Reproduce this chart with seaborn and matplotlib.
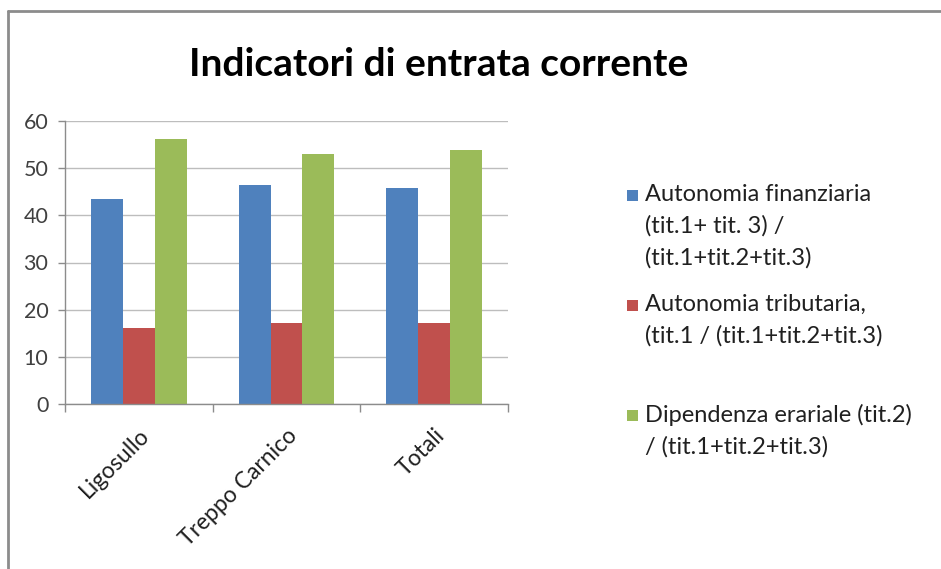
import matplotlib
matplotlib.use("Agg")
import matplotlib.pyplot as plt
from matplotlib.patches import Rectangle
from matplotlib.lines import Line2D
import seaborn as sns
import pandas as pd

# Data
comuni = ["Ligosullo", "Treppo Carnico", "Totali"]
autonomia_finanziaria = [43.4, 46.4, 45.7]
autonomia_tributaria = [16.2, 17.1, 17.1]
dipendenza_erariale = [56.1, 53.1, 53.8]
indicatori = [
    "Autonomia finanziaria\n(tit.1+ tit. 3) /\n(tit.1+tit.2+tit.3)",
    "Autonomia tributaria,\n(tit.1 / (tit.1+tit.2+tit.3)",
    "Dipendenza erariale (tit.2)\n/ (tit.1+tit.2+tit.3)",
]
colori = ["#4F81BD", "#C0504D", "#9BBB59"]
y_ticks = [0, 10, 20, 30, 40, 50, 60]

df = pd.DataFrame({
    "Comune": comuni * 3,
    "Indicatore": [indicatori[0]] * 3 + [indicatori[1]] * 3 + [indicatori[2]] * 3,
    "Valore": autonomia_finanziaria + autonomia_tributaria + dipendenza_erariale,
})

sns.set_theme(style="white")
plt.rcParams["font.family"] = ["Lato", "DejaVu Sans"]

fig = plt.figure(figsize=(9.41, 5.69), dpi=100)
ax = fig.add_axes([65 / 941, 1 - 404 / 569, (508 - 65) / 941, (404 - 121) / 569])

sns.barplot(data=df, x="Comune", y="Valore", hue="Indicatore",
            palette=colori, width=0.65, saturation=1, ax=ax, legend=False,
            linewidth=0, edgecolor="none")

ax.set_ylim(0, 60)
ax.set_xlim(-0.5, 2.5)
ax.set_yticks(y_ticks)
ax.set_xlabel("")
ax.set_ylabel("")
ax.yaxis.grid(True, color="#BDBDBD", linewidth=1)
ax.set_axisbelow(True)
for side in ["top", "right"]:
    ax.spines[side].set_visible(False)
for side in ["left", "bottom"]:
    ax.spines[side].set_color("#8C8C8C")
    ax.spines[side].set_linewidth(1)

ax.tick_params(axis="y", labelsize=15.5, colors="#8C8C8C", labelcolor="#404040",
               length=5, width=1, direction="out", left=True, pad=7)
ax.set_xticks([0, 1, 2])
ax.set_xticklabels(comuni, rotation=45, ha="right", rotation_mode="anchor",
                   fontsize=16.5, color="#202020")
ax.tick_params(axis="x", length=0, pad=15)
# category separator ticks below the axis
ax.set_xticks([-0.5, 0.5, 1.5, 2.5], minor=True)
ax.tick_params(axis="x", which="minor", length=6, width=1, color="#8C8C8C",
               direction="out", bottom=True)

fig.text(439 / 941, 1 - 76 / 569, "Indicatori di entrata corrente",
         ha="center", va="baseline", fontsize=28, fontweight="bold", color="#000000")

# Legend drawn entry by entry with equal spacing
legend_tops = [184, 294, 404]
for label, col, y in zip(indicatori, colori, legend_tops):
    fig.patches.append(Rectangle((627 / 941, 1 - (y + 17) / 569), 11 / 941, 11 / 569,
                                 transform=fig.transFigure, facecolor=col,
                                 edgecolor="none"))
    fig.text(645 / 941, 1 - y / 569, label, ha="left", va="top",
             fontsize=17, color="#202020", linespacing=1.58)

# outer chart frame
fig.add_artist(Line2D([8 / 941, 8 / 941], [0, 1 - 11 / 569], transform=fig.transFigure,
                      color="#8C8C8C", linewidth=2))
fig.add_artist(Line2D([8 / 941, 1], [1 - 11 / 569, 1 - 11 / 569], transform=fig.transFigure,
                      color="#8C8C8C", linewidth=2))

fig.savefig("out.png", dpi=100)
